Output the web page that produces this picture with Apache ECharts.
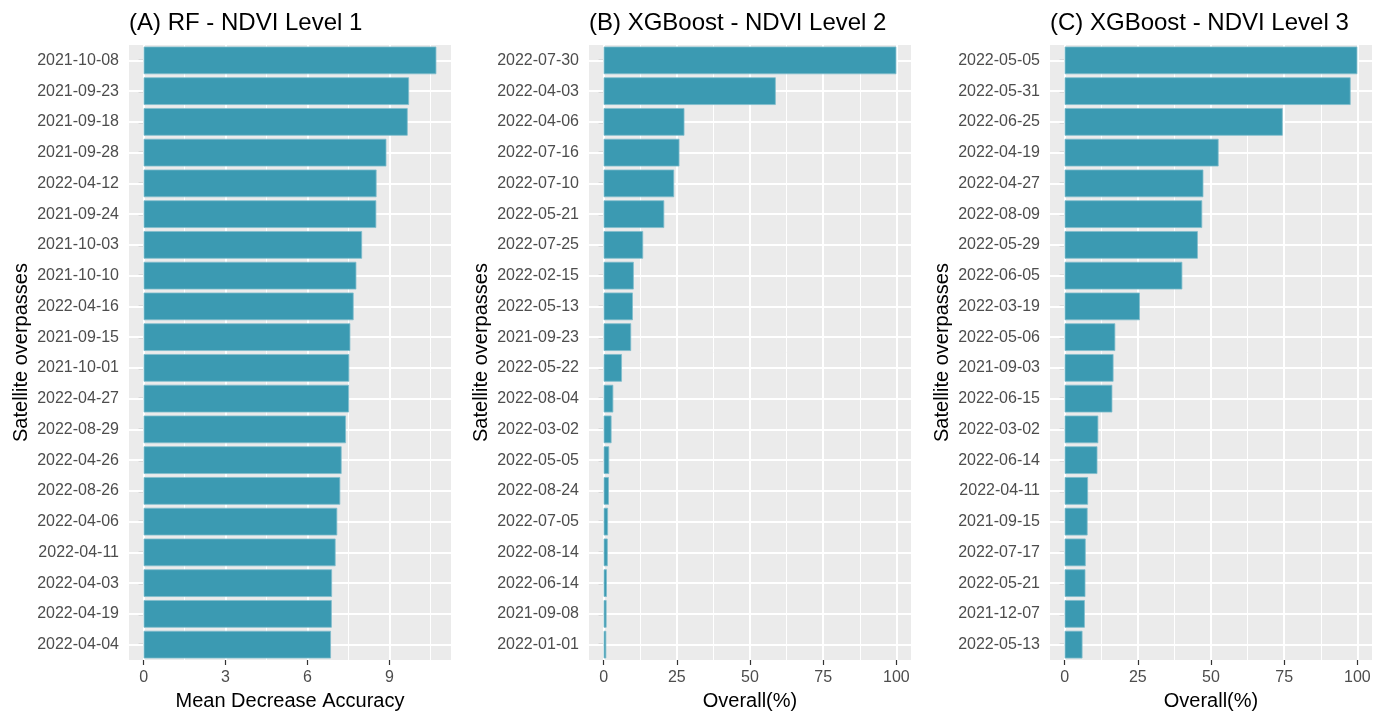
<!DOCTYPE html>
<html>
<head>
<meta charset="utf-8">
<script src="https://cdn.jsdelivr.net/npm/echarts@6/dist/echarts.min.js"></script>
<style>
  html, body { margin: 0; padding: 0; background: #fff; }
  #main { width: 1386px; height: 716px; }
</style>
</head>
<body>
<div id="main"></div>
<script>
  // panel A - RF, mean decrease accuracy
  var datesA = ["2021-10-08", "2021-09-23", "2021-09-18", "2021-09-28", "2022-04-12",
    "2021-09-24", "2021-10-03", "2021-10-10", "2022-04-16", "2021-09-15",
    "2021-10-01", "2022-04-27", "2022-08-29", "2022-04-26", "2022-08-26",
    "2022-04-06", "2022-04-11", "2022-04-03", "2022-04-19", "2022-04-04"];
  var valuesA = [10.72, 9.72, 9.67, 8.89, 8.53, 8.52, 8.0, 7.79, 7.69, 7.57,
    7.53, 7.52, 7.41, 7.25, 7.2, 7.09, 7.03, 6.9, 6.89, 6.86];

  // panel B - XGBoost level 2
  var datesB = ["2022-07-30", "2022-04-03", "2022-04-06", "2022-07-16", "2022-07-10",
    "2022-05-21", "2022-07-25", "2022-02-15", "2022-05-13", "2021-09-23",
    "2022-05-22", "2022-08-04", "2022-03-02", "2022-05-05", "2022-08-24",
    "2022-07-05", "2022-08-14", "2022-06-14", "2021-09-08", "2022-01-01"];
  var valuesB = [100, 58.8, 27.6, 25.9, 24.1, 20.7, 13.5, 10.3, 10.0, 9.4,
    6.25, 3.3, 2.7, 1.9, 1.8, 1.5, 1.4, 1.1, 1.0, 0.9];

  // panel C - XGBoost level 3
  var datesC = ["2022-05-05", "2022-05-31", "2022-06-25", "2022-04-19", "2022-04-27",
    "2022-08-09", "2022-05-29", "2022-06-05", "2022-03-19", "2022-05-06",
    "2021-09-03", "2022-06-15", "2022-03-02", "2022-06-14", "2022-04-11",
    "2021-09-15", "2022-07-17", "2022-05-21", "2021-12-07", "2022-05-13"];
  var valuesC = [100, 97.7, 74.5, 52.6, 47.4, 47.0, 45.5, 40.2, 25.7, 17.3,
    16.7, 16.3, 11.5, 11.2, 8.0, 7.85, 7.2, 7.1, 6.9, 6.1];

  var ticksA = [0, 3, 6, 9];
  var minorA = [1.5, 4.5, 7.5, 10.5];
  var ticksBC = [0, 25, 50, 75, 100];
  var minorBC = [12.5, 37.5, 62.5, 87.5];

  var titles = ["(A) RF - NDVI Level 1", "(B) XGBoost - NDVI Level 2", "(C) XGBoost - NDVI Level 3"];
  var xNames = ["Mean Decrease Accuracy", "Overall(%)", "Overall(%)"];

  var panelLeft = [129, 589, 1050];
  var panelW = 322;
  var panelTop = 45;
  var panelH = 619;

  var panels = [
    { dates: datesA, values: valuesA, ticks: ticksA, minor: minorA, min: -0.536, max: 11.256 },
    { dates: datesB, values: valuesB, ticks: ticksBC, minor: minorBC, min: -5, max: 105 },
    { dates: datesC, values: valuesC, ticks: ticksBC, minor: minorBC, min: -5, max: 105 }
  ];

  var chart = echarts.init(document.getElementById("main"), null, { renderer: "canvas" });

  var grid = [], xAxis = [], yAxis = [], series = [], title = [];

  panels.forEach(function (p, i) {
    grid.push({
      left: panelLeft[i], top: panelTop, width: panelW, height: panelH,
      show: true, backgroundColor: "#EBEBEB", borderWidth: 0
    });
    title.push({
      text: titles[i], left: panelLeft[i], top: 11, padding: 0,
      textStyle: { fontFamily: "Liberation Sans", fontSize: 24, fontWeight: "normal", color: "#000" }
    });
    xAxis.push({
      type: "value", gridIndex: i, min: p.min, max: p.max,
      name: xNames[i], nameLocation: "middle", nameGap: 31,
      nameTextStyle: { fontFamily: "Liberation Sans", fontSize: 20, color: "#000" },
      axisLine: { show: false },
      axisTick: { show: true, length: 5, customValues: p.ticks, lineStyle: { color: "#333333", width: 1.2 } },
      axisLabel: { customValues: p.ticks, margin: 10, fontFamily: "Liberation Sans", fontSize: 16, color: "#4D4D4D" },
      splitLine: { show: false }
    });
    yAxis.push({
      type: "category", gridIndex: i, data: p.dates, inverse: true,
      name: "Satellite overpasses", nameLocation: "middle", nameGap: 98,
      nameTextStyle: { fontFamily: "Liberation Sans", fontSize: 20, color: "#000" },
      axisLine: { show: false },
      axisTick: { show: true, length: 5, alignWithLabel: true, lineStyle: { color: "#333333", width: 1.2 } },
      axisLabel: { margin: 10, fontFamily: "Liberation Sans", fontSize: 16, color: "#4D4D4D" },
      splitLine: { show: false }
    });

    // ggplot-style white grid lines behind the bars
    var lines = [];
    p.minor.forEach(function (v) {
      lines.push({ xAxis: v, lineStyle: { width: 1 } });
    });
    p.ticks.forEach(function (v) {
      lines.push({ xAxis: v, lineStyle: { width: 2 } });
    });
    p.dates.forEach(function (d) {
      lines.push({ yAxis: d, lineStyle: { width: 2 } });
    });

    series.push({
      type: "bar", xAxisIndex: i, yAxisIndex: i,
      data: p.values, barCategoryGap: "10%", z: 2,
      itemStyle: { color: "#3B9AB2", borderColor: "#80BCCC", borderWidth: 0.8 },
      animation: false,
      markLine: {
        silent: true, z: 1, symbol: "none", animation: false,
        label: { show: false },
        lineStyle: { color: "#FFFFFF", type: "solid", opacity: 1 },
        data: lines
      }
    });
  });

  chart.setOption({
    animation: false,
    title: title,
    grid: grid,
    xAxis: xAxis,
    yAxis: yAxis,
    series: series
  });
</script>
</body>
</html>
